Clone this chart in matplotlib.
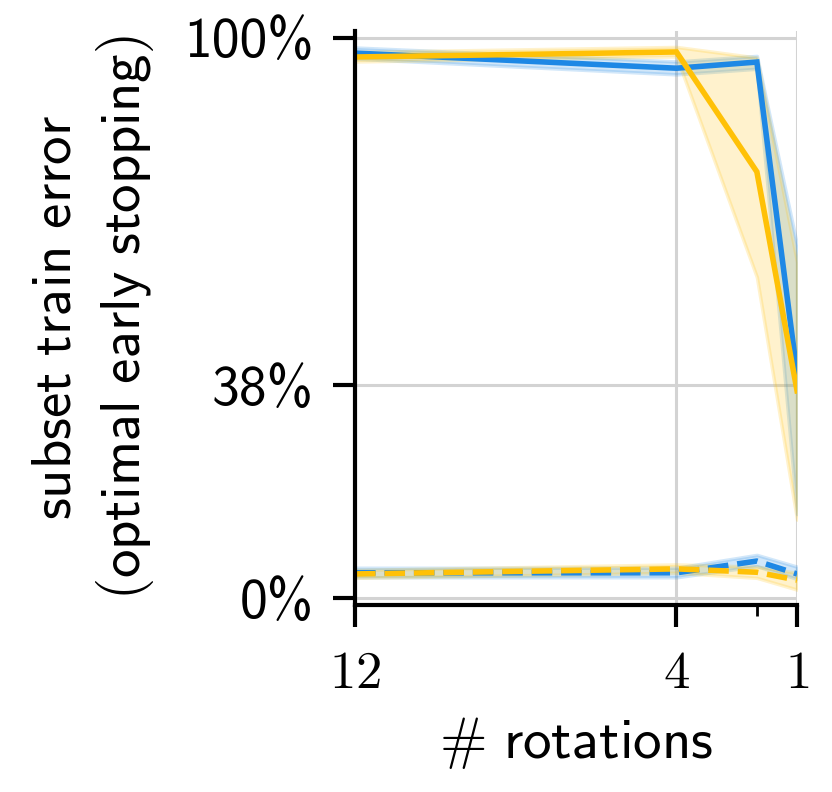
import numpy as np
import matplotlib
matplotlib.use("Agg")
import matplotlib.pyplot as plt
from matplotlib.ticker import FixedLocator, FuncFormatter

plt.rcParams["mathtext.fontset"] = "cm"

# number of rotations on x axis
rotations = [12, 4, 2, 1]

# solid lines (subset train error)
blue_mean = [0.973, 0.946, 0.957, 0.40]
blue_low = [0.963, 0.935, 0.945, 0.15]
blue_high = [0.983, 0.958, 0.968, 0.63]

yellow_mean = [0.966, 0.975, 0.761, 0.37]
yellow_low = [0.958, 0.967, 0.573, 0.14]
yellow_high = [0.975, 0.984, 0.965, 0.60]

# dashed lines
blue_d_mean = [0.045, 0.045, 0.066, 0.043]
blue_d_low = [0.037, 0.037, 0.057, 0.034]
blue_d_high = [0.054, 0.054, 0.077, 0.056]

yellow_d_mean = [0.043, 0.052, 0.046, 0.032]
yellow_d_low = [0.036, 0.045, 0.036, 0.015]
yellow_d_high = [0.050, 0.060, 0.056, 0.045]

yticks = [0.0, 0.38, 1.0]
ytick_labels = ["0%", "38%", "100%"]
xticks = [12, 4, 1]

blue = "#1E88E5"
yellow = "#FFC107"
fs = 38
lfs = 41

fig = plt.figure(figsize=(8.32, 7.92), dpi=100)
ax = fig.add_axes([0.4267, 0.2361, 0.5313, 0.7248])

def band(x, lo, hi, c):
    ax.fill_between(x, lo, hi, color=c, alpha=0.2, linewidth=2.5, edgecolor=c)

band(rotations, blue_low, blue_high, blue)
band(rotations, yellow_low, yellow_high, yellow)
band(rotations, blue_d_low, blue_d_high, blue)
band(rotations, yellow_d_low, yellow_d_high, yellow)

ax.plot(rotations, blue_mean, color=blue, lw=4, solid_joinstyle="miter")
ax.plot(rotations, yellow_mean, color=yellow, lw=4, solid_joinstyle="miter")
ax.plot(rotations, blue_d_mean, color=blue, lw=4, ls="--")
ax.plot(rotations, yellow_d_mean, color=yellow, lw=4, ls="--")

ax.set_xlim(12, 1)
ax.set_ylim(-0.0125, 1.0125)

ax.xaxis.set_major_locator(FixedLocator(xticks))
ax.xaxis.set_minor_locator(FixedLocator([2]))
ax.xaxis.set_major_formatter(FuncFormatter(lambda v, p: r"$%d$" % v))
ax.set_yticks(yticks)
ax.set_yticklabels(ytick_labels, fontfamily="cmss10", fontsize=40)

ax.grid(True, which="major", color="#d3d3d3", lw=2.2)
ax.set_axisbelow(True)

for s in ["top", "right"]:
    ax.spines[s].set_visible(False)
for s in ["left", "bottom"]:
    ax.spines[s].set_linewidth(3)

ax.tick_params(which="major", length=16, width=3, pad=14)
ax.tick_params(axis="x", which="major", labelsize=fs)
ax.tick_params(axis="x", which="minor", length=8, width=2)

ax.set_xlabel(r"$\#\ \mathsf{rotations}$", fontsize=lfs, labelpad=12)
ax.set_ylabel(r"$\mathsf{subset\ train\ error}$" + "\n" + r"$\mathsf{(optimal\ early\ stopping)}$",
              fontsize=lfs, labelpad=20, linespacing=1.25)

fig.savefig("out.png", dpi=100)
